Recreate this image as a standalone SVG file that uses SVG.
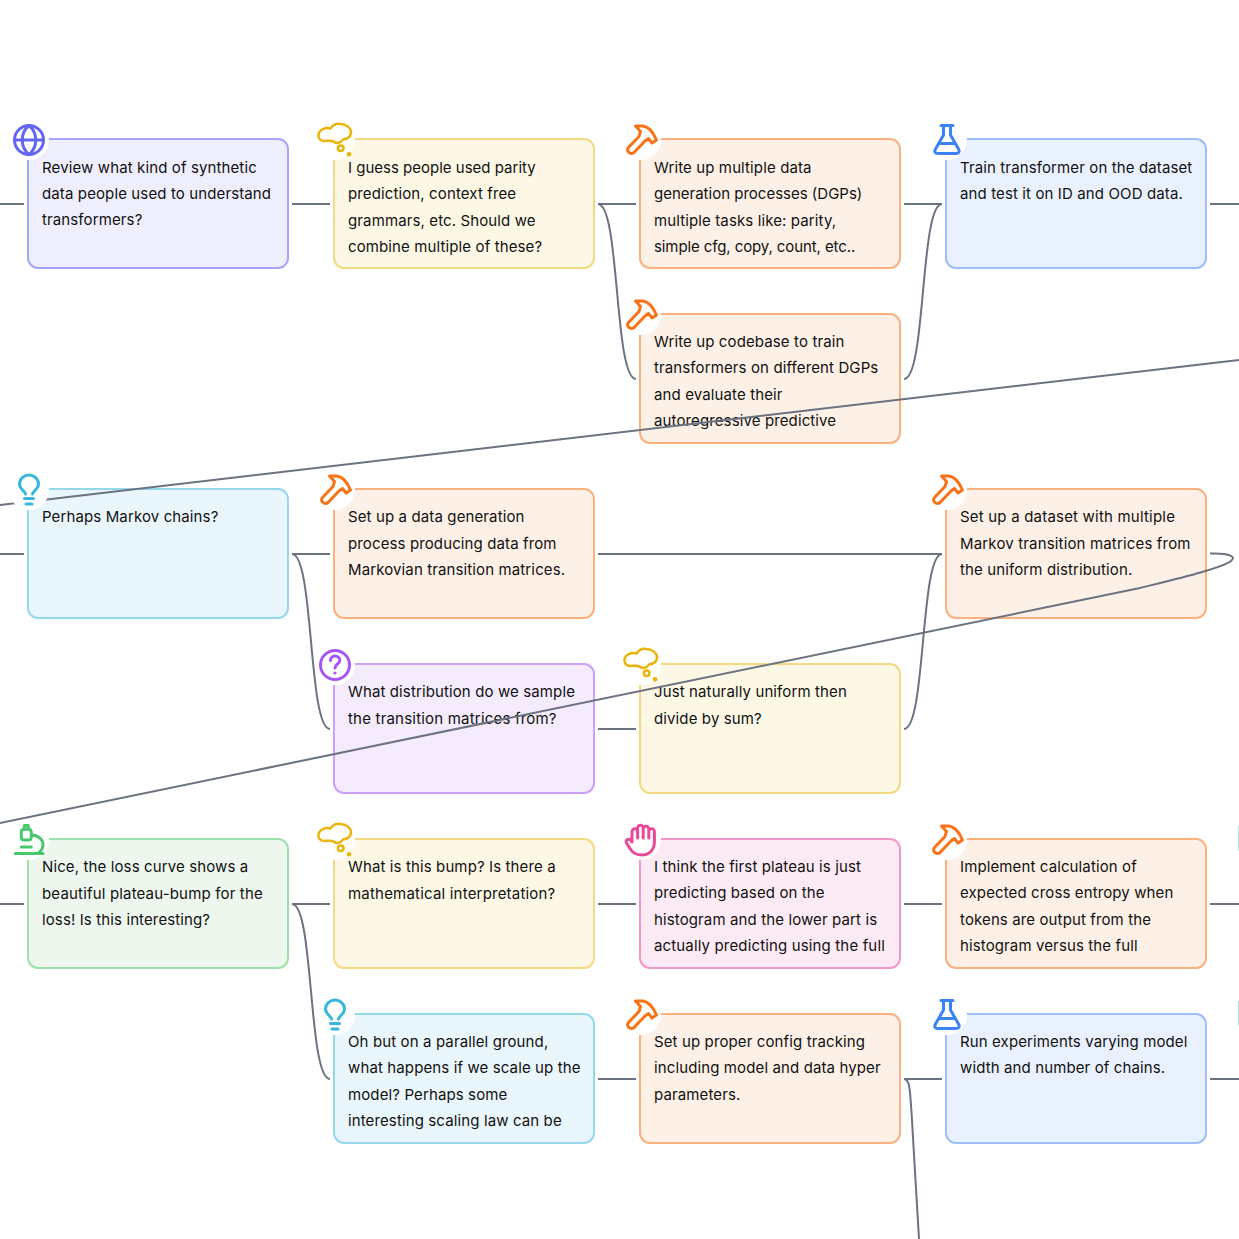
<svg xmlns="http://www.w3.org/2000/svg" width="1239" height="1239" viewBox="0 0 1239 1239">
<style>
.n{stroke-width:2}
.purple{fill:#EFEEFD;stroke:#A5A6F9}
.yellow{fill:#FDF8E6;stroke:#F4D982}
.orange{fill:#FDF0E6;stroke:#FBB07E}
.blue{fill:#EAF1FE;stroke:#9DBEFB}
.sky{fill:#E9F6FC;stroke:#93D8EB}
.violet{fill:#F4EBFD;stroke:#CBA1F9}
.green{fill:#EDF7EE;stroke:#9BE1A9}
.pink{fill:#FCEBF4;stroke:#F297C9}
text{font-family:"Inter","Liberation Sans",sans-serif;font-size:15px;fill:#111;letter-spacing:.12px}
.c{fill:none;stroke:#6B7280;stroke-width:2}
.h{fill:#fff;stroke:none}
.i{fill:none;stroke-width:3;stroke-linecap:round;stroke-linejoin:round}
</style>
<defs>
<rect id="box" width="260" height="129" rx="10"/>
<g id="globe" class="i" stroke="#6366F1"><circle class="h" r="20"/><circle r="14.500"/><path d="M-14.500 0H14.500M0 -14.500C-9 -7 -9 7 0 14.500C9 7 9 -7 0 -14.500"/></g>
<g id="cloud" class="i" stroke="#EAB308" style="stroke-width:2.500"><circle class="h" r="20"/><path d="M-11 1C-15 1 -17 -2 -16.500 -5.500C-16 -10 -10 -13 -4.500 -11.500C-2 -15 2 -16.500 5 -16C11 -16 16.500 -12 16 -7C15.500 -3 12 -1 8 -0.500C6 3 1 4 -1.500 1.500C-4 0 -8 1 -11 1Z"/><circle cx="5.700" cy="8.300" r="2.800"/><circle cx="14" cy="14.300" r="2.300" fill="#EAB308" stroke="none"/></g>
<g id="hammer" class="i" stroke="#F97316"><circle class="h" r="20"/><path d="M-5.500 -14H2C8 -13 13 -6 15.500 0L11 3L7.500 -1.500L4 1L-7 12.500C-9 14 -11 13.500 -12.500 12C-14 10.500 -13.500 8.500 -12.500 7.500L-2 -3.500L-0.500 -8.500Z"/></g>
<g id="flask" class="i" stroke="#3B82F6"><circle class="h" r="20"/><path d="M-6 -14.500H6M-3.500 -14.500V-5L-11.500 9C-13 11.500 -12 13.500 -9 13.500H9C12 13.500 13 11.500 11.500 9L3.500 -5V-14.500M-8 3.500H8"/></g>
<g id="bulb" class="i" stroke="#38B6DC"><circle class="h" r="20"/><path d="M-3.500 4C-4 1 -9.500 -1 -9.500 -6C-9.500 -11 -5 -15 0 -15C5 -15 9.500 -11 9.500 -6C9.500 -1 4 1 3.500 4M-4.500 8.500H4.500M-3 14H3"/></g>
<g id="quest" class="i" stroke="#A855F7"><circle class="h" r="20"/><circle r="14.500"/><path d="M-4.500 -4.500C-4.500 -8 -1.500 -9 0 -9C3 -9 4.800 -7 4.800 -4.500C4.800 -1 0 -1 0 3"/><circle cy="8" r="1.600" fill="#A855F7" stroke="none"/></g>
<g id="micro" class="i" stroke="#47C96B"><circle class="h" r="20"/><path d="M-13.700 13.500H14M-7.700 7H2.300M-4.700 -14.500H-0.700V-10.700M-4.700 -14.500V-10.700M-7.700 -7.500C-7.700 -9.500 -6.500 -10.700 -4.700 -10.700H-0.700C1.300 -10.700 2.300 -9.500 2.300 -7.500V-3C2.300 -1 1 0 -0.700 0H-4.700C-6.500 0 -7.700 -1 -7.700 -3ZM2.300 -5C9 -5 14 -0.500 14 4.500C14 8 12.500 11 9 13.500"/></g>
<g id="hand" class="i" stroke="#EC4899"><circle class="h" r="20"/><path d="M-9 2V-8.500a2.800 2.800 0 0 1 5.600 0V-2M-3.400 -3V-12a2.800 2.800 0 0 1 5.600 0V-2M2.200 -11a2.800 2.800 0 0 1 5.600 0V-2M7.800 -8.500a2.800 2.800 0 0 1 5.600 0V2C13.400 10 8 15 1 15C-6 15 -9 12 -12 7L-14.500 3C-16 0 -11.500 -3 -9 2"/></g>
</defs>

<g id="node-1"><use href="#box" class="n purple" x="28" y="139"/><text x="42" y="173">Review what kind of synthetic</text><text x="42" y="199">data people used to understand</text><text x="42" y="225">transformers?</text></g>
<g id="node-2"><use href="#box" class="n yellow" x="334" y="139"/><text x="348" y="173" style="letter-spacing:0">I guess people used parity</text><text x="348" y="199">prediction, context free</text><text x="348" y="226">grammars, etc. Should we</text><text x="348" y="252">combine multiple of these?</text></g>
<g id="node-3"><use href="#box" class="n orange" x="640" y="139"/><text x="654" y="173">Write up multiple data</text><text x="654" y="199" style="letter-spacing:0">generation processes (DGPs)</text><text x="654" y="226">multiple tasks like: parity,</text><text x="654" y="252" style="letter-spacing:-.1px">simple cfg, copy, count, etc..</text></g>
<g id="node-4"><use href="#box" class="n blue" x="946" y="139"/><text x="960" y="173">Train transformer on the dataset</text><text x="960" y="199">and test it on ID and OOD data.</text></g>
<g id="node-5"><use href="#box" class="n orange" x="640" y="314"/><text x="654" y="347">Write up codebase to train</text><text x="654" y="373">transformers on different DGPs</text><text x="654" y="400">and evaluate their</text><text x="654" y="426">autoregressive predictive</text></g>
<g id="node-6"><use href="#box" class="n sky" x="28" y="489"/><text x="42" y="522">Perhaps Markov chains?</text></g>
<g id="node-7"><use href="#box" class="n orange" x="334" y="489"/><text x="348" y="522">Set up a data generation</text><text x="348" y="549">process producing data from</text><text x="348" y="575">Markovian transition matrices.</text></g>
<g id="node-8"><use href="#box" class="n orange" x="946" y="489"/><text x="960" y="522" style="letter-spacing:.2px">Set up a dataset with multiple</text><text x="960" y="549" style="letter-spacing:.16px">Markov transition matrices from</text><text x="960" y="575">the uniform distribution.</text></g>
<g id="node-9"><use href="#box" class="n violet" x="334" y="664"/><text x="348" y="697">What distribution do we sample</text><text x="348" y="724" style="letter-spacing:.2px">the transition matrices from?</text></g>
<g id="node-10"><use href="#box" class="n yellow" x="640" y="664"/><text x="654" y="697">Just naturally uniform then</text><text x="654" y="724">divide by sum?</text></g>
<g id="node-11"><use href="#box" class="n green" x="28" y="839"/><text x="42" y="872">Nice, the loss curve shows a</text><text x="42" y="899" style="letter-spacing:.17px">beautiful plateau-bump for the</text><text x="42" y="925">loss! Is this interesting?</text></g>
<g id="node-12"><use href="#box" class="n yellow" x="334" y="839"/><text x="348" y="872">What is this bump? Is there a</text><text x="348" y="899" style="letter-spacing:.2px">mathematical interpretation?</text></g>
<g id="node-13"><use href="#box" class="n pink" x="640" y="839"/><text x="654" y="872">I think the first plateau is just</text><text x="654" y="898">predicting based on the</text><text x="654" y="925">histogram and the lower part is</text><text x="654" y="951" style="letter-spacing:.15px">actually predicting using the full</text></g>
<g id="node-14"><use href="#box" class="n orange" x="946" y="839"/><text x="960" y="872">Implement calculation of</text><text x="960" y="898">expected cross entropy when</text><text x="960" y="925">tokens are output from the</text><text x="960" y="951">histogram versus the full</text></g>
<g id="node-15"><use href="#box" class="n sky" x="334" y="1014"/><text x="348" y="1047">Oh but on a parallel ground,</text><text x="348" y="1073">what happens if we scale up the</text><text x="348" y="1100">model? Perhaps some</text><text x="348" y="1126">interesting scaling law can be</text></g>
<g id="node-16"><use href="#box" class="n orange" x="640" y="1014"/><text x="654" y="1047">Set up proper config tracking</text><text x="654" y="1073">including model and data hyper</text><text x="654" y="1100">parameters.</text></g>
<g id="node-17"><use href="#box" class="n blue" x="946" y="1014"/><text x="960" y="1047">Run experiments varying model</text><text x="960" y="1073">width and number of chains.</text></g>

<g id="connectors">
<path class="c" d="M0 204H24M292 204H330M598 204H636M904 204H942M1210 204H1239"/>
<path class="c" d="M598 204C620 204 614 379 636 379"/>
<path class="c" d="M904 379C926 379 920 204 942 204"/>
<path class="c" d="M0 505L1239 360"/>
<path class="c" d="M0 554H24M292 554H330M598 554H942M598 729H636"/>
<path class="c" d="M292 554C314 554 308 729 330 729"/>
<path class="c" d="M904 729C926 729 920 554 942 554"/>
<path class="c" d="M1210 553.500C1232 553 1236 557 1231 561C1222 568 1180 578 1140 588C900 640 500 722 0 823"/>
<path class="c" d="M0 904H24M292 904H330M598 904H636M904 904H942M1210 904H1239"/>
<path class="c" d="M292 904C314 904 308 1079 330 1079"/>
<path class="c" d="M598 1079H636M904 1079H942M1210 1079H1239"/>
<path class="c" d="M904 1079C910 1079 910 1090 912 1120C914 1160 917 1200 919 1239"/>
</g>

<g id="icons">
<use href="#globe" x="29" y="140"/>
<use href="#cloud" x="335" y="140"/>
<use href="#hammer" x="641" y="140"/>
<use href="#flask" x="947" y="140"/>
<use href="#hammer" x="641" y="315"/>
<use href="#bulb" x="29" y="490"/>
<use href="#hammer" x="335" y="490"/>
<use href="#hammer" x="947" y="490"/>
<use href="#quest" x="335" y="665"/>
<use href="#cloud" x="641" y="665"/>
<use href="#micro" x="29" y="840"/>
<use href="#cloud" x="335" y="840"/>
<use href="#hand" x="641" y="840"/>
<use href="#hammer" x="947" y="840"/>
<use href="#bulb" x="335" y="1015"/>
<use href="#hammer" x="641" y="1015"/>
<use href="#flask" x="947" y="1015"/>
<rect x="1238" y="826" width="1" height="25" fill="#B5EAE0"/>
<rect x="1238" y="1001" width="1" height="25" fill="#B5EAE0"/>
</g>
</svg>
